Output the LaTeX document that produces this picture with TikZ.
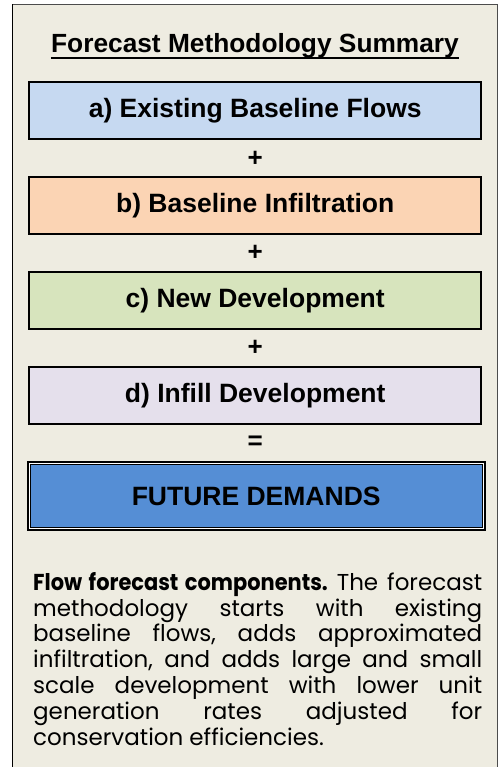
\documentclass[tikz,border=0pt]{standalone}
\usepackage{fontspec}
\setmainfont{Liberation Sans}
\newfontfamily\notefont[BoldFeatures={FakeStretch=0.91}]{Poppins}
\usepackage{xcolor}
\usetikzlibrary{positioning}

\definecolor{panelbg}{HTML}{EEECE1}
\definecolor{flowblue}{HTML}{C6D9F1}
\definecolor{infilorange}{HTML}{FBD4B4}
\definecolor{devgreen}{HTML}{D7E4BD}
\definecolor{infillilac}{HTML}{E5E0EC}
\definecolor{demandblue}{HTML}{558ED5}

\begin{document}
\begin{tikzpicture}[x=1pt, y=-1pt, node distance=0pt,
    stepbox/.style={rectangle, draw, line width=2pt, minimum width=452pt, minimum height=57pt,
      inner sep=0pt, font=\fontsize{26.5}{30}\selectfont\bfseries},
    sign/.style={minimum height=35.5pt, inner sep=0pt, font=\fontsize{26}{30}\selectfont\bfseries},
    total/.style={rectangle, draw, line width=3pt, minimum width=456pt, minimum height=67pt,
      inner sep=0pt, fill=demandblue, font=\fontsize{26.5}{30}\selectfont\bfseries}]

    \useasboundingbox (0,0) rectangle (498,767);
    % panel
    \fill[panelbg] (12.5,4.5) rectangle (497,767);
    \draw[gray!60!black, line width=1pt] (497,767) -- (497,4.5) -- (12.5,4.5);
    \draw[black, line width=1.3pt] (12.5,4.5) -- (12.5,767);

    \node[anchor=base, inner sep=0pt, font=\fontsize{26.3}{30}\selectfont\bfseries] (title) at (255,53) {Forecast Methodology Summary};
    \draw[line width=2pt] ([yshift=-5pt]title.base west) -- ([yshift=-5pt]title.base east);

    \node[stepbox, fill=flowblue, anchor=north] (flows) at (255.2,81.5) {a) Existing Baseline Flows};
    \node[sign, below=of flows] (plusa) {+};
    \node[stepbox, fill=infilorange, below=of plusa] (infil) {b) Baseline Infiltration};
    \node[sign, below=of infil] (plusb) {+};
    \node[stepbox, fill=devgreen, below=of plusb] (newdev) {c) New Development};
    \node[sign, below=of newdev] (plusc) {+};
    \node[stepbox, fill=infillilac, below=of plusc] (infill) {d) Infill Development};
    \node[sign, below=of infill] (equals) {=};
    \node[total, below=of equals, xshift=1pt] (demand) {FUTURE DEMANDS};
    % thin inner rule of the double frame
    \draw[white, line width=0.8pt] ([shift={(2.6,2.6)}]demand.north west) rectangle ([shift={(-2.6,-2.6)}]demand.south east);
    \draw[line width=0.9pt] ([shift={(3.4,3.4)}]demand.north west) rectangle ([shift={(-3.4,-3.4)}]demand.south east);

    \node[anchor=north west, text width=449pt, align=justify, inner sep=0pt,
          font=\notefont\fontsize{23}{25.8}\selectfont\frenchspacing] (note) at (33,572)
      {\textbf{Flow forecast components.} The forecast\linebreak
       methodology starts with existing\linebreak
       baseline flows, adds approximated\linebreak
       infiltration, and adds large and small\linebreak
       scale development with lower unit\linebreak
       generation rates adjusted for\linebreak
       conservation efficiencies.};
\end{tikzpicture}
\end{document}
